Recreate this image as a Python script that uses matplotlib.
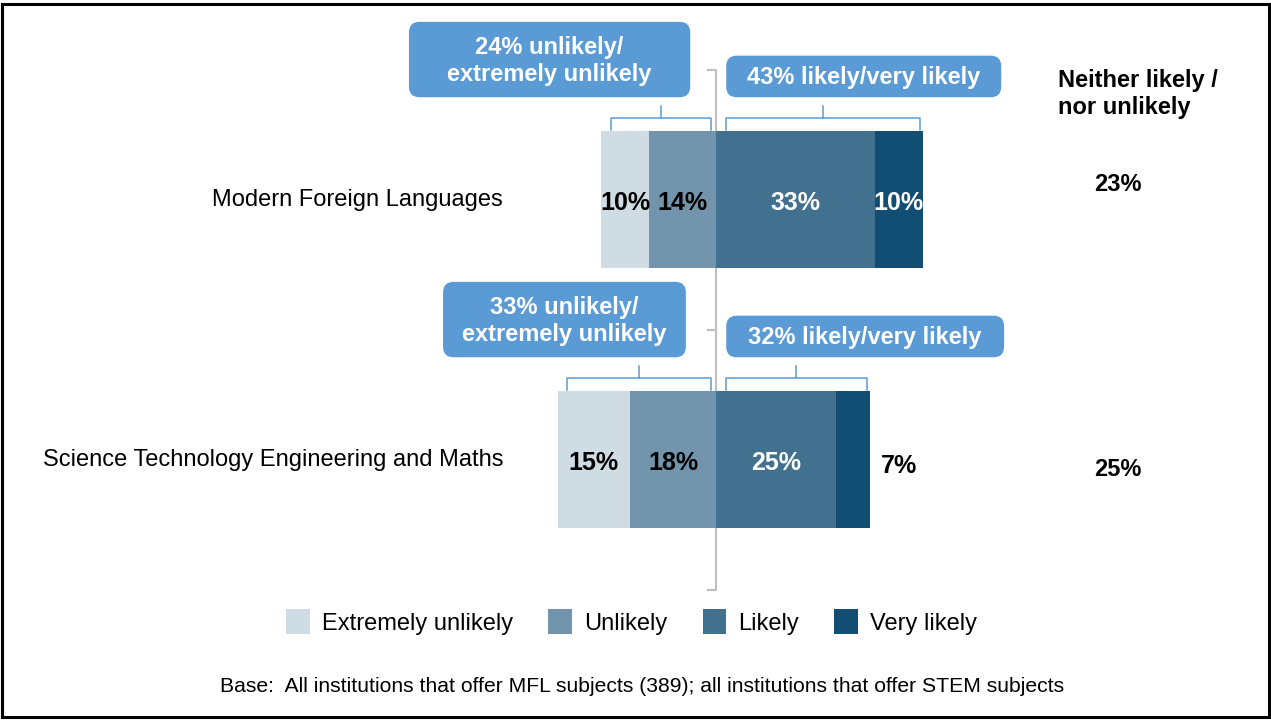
import matplotlib
matplotlib.use('Agg')
import matplotlib.pyplot as plt
from matplotlib.patches import FancyBboxPatch, Rectangle, Patch

plt.rcParams['font.family'] = ['Liberation Sans', 'DejaVu Sans']

# ---------------------------------------------------------------
# Data (% of institutions)
# ---------------------------------------------------------------
categories = ["Modern Foreign Languages",
              "Science Technology Engineering and Maths"]
extremely_unlikely = [10, 15]
unlikely           = [14, 18]
likely             = [33, 25]
very_likely        = [10, 7]
neither            = [23, 25]

legend_labels = ["Extremely unlikely", "Unlikely", "Likely", "Very likely"]
base_note = ("Base:  All institutions that offer MFL subjects (389); "
             "all institutions that offer STEM subjects")

# ---------------------------------------------------------------
# Styling / layout
# ---------------------------------------------------------------
COL_EXT     = '#CFDCE3'
COL_UNL     = '#7295AD'
COL_LIK     = '#41718F'
COL_VL      = '#124E74'
COL_CALLOUT = '#5B9BD5'
COL_AXIS    = '#BFBFBF'

BAR_H = 0.527
# callout boxes: (x0, x1) in % units, (y0, y1) offset from the category
left_box_x  = [(-64.0, -5.4), (-56.9, -6.3)]
right_box_x = [(2.1, 59.4), (2.1, 60.0)]
left_box_y  = (-0.685, -0.395)
right_box_y = (-0.555, -0.395)
neither_dy  = [-0.06, 0.035]

fig = plt.figure(figsize=(12.71, 7.2), dpi=100)
ax = fig.add_axes([0, 0, 1, 1])
ax.set_xlim(-149.2, 115.6)
ax.set_ylim(2.0, -0.769)
ax.axis('off')

y = list(range(len(categories)))
neg_unl = [-u for u in unlikely]
neg_ext = [-e for e in extremely_unlikely]

# diverging stacked bars
ax.barh(y, neg_unl, height=BAR_H, color=COL_UNL, zorder=2)
ax.barh(y, neg_ext, left=neg_unl, height=BAR_H, color=COL_EXT, zorder=2)
ax.barh(y, likely, height=BAR_H, color=COL_LIK, zorder=2)
ax.barh(y, very_likely, left=likely, height=BAR_H, color=COL_VL, zorder=2)

# centre axis line with small ticks
ax.plot([-1.7, 0, 0, -1.7], [-0.5, -0.5, 1.5, 1.5], color=COL_AXIS, lw=1.5, zorder=1)
ax.plot([-1.7, 0], [0.5, 0.5], color=COL_AXIS, lw=1.5, zorder=1)

lbl = dict(fontsize=18, fontweight='bold', va='center')
for i in y:
    e, u, l, v = extremely_unlikely[i], unlikely[i], likely[i], very_likely[i]
    ax.text(-u - e / 2, i + 0.01, f'{e}%', ha='center', color='black', zorder=3, **lbl)
    ax.text(-u / 2, i + 0.01, f'{u}%', ha='center', color='black', zorder=3, **lbl)
    ax.text(l / 2, i + 0.01, f'{l}%', ha='center', color='white', zorder=3, **lbl)
    if v >= 8:
        ax.text(l + v / 2, i + 0.01, f'{v}%', ha='center', color='white', zorder=3, **lbl)
    else:
        ax.text(l + v + 2.4, i + 0.025, f'{v}%', ha='left', color='black', zorder=3, **lbl)

    # category label
    ax.text(-44.4, i, categories[i], ha='right', va='center', fontsize=17)

    # neither likely nor unlikely
    ax.text(83.75, i + neither_dy[i], f'{neither[i]}%', ha='center', va='center',
            fontsize=17, fontweight='bold')

    # brackets over each side
    left_tot = e + u
    right_tot = l + v
    for x0, x1 in [(-left_tot + 2, -1), (2, right_tot - 0.6)]:
        yb = i - 0.315
        ax.plot([x0, x0, x1, x1], [i - 0.27, yb, yb, i - 0.27],
                color=COL_CALLOUT, lw=1.1, zorder=2)
        mid = (x0 + x1) / 2
        ax.plot([mid, mid], [yb, i - 0.36], color=COL_CALLOUT, lw=1.1, zorder=2)

    # callout boxes
    aspect = (1 / 260) / (1 / 4.8)
    boxes = [(left_box_x[i], left_box_y, f'{left_tot}% unlikely/\nextremely unlikely'),
             (right_box_x[i], right_box_y, f'{right_tot}% likely/very likely')]
    for (bx0, bx1), (by0, by1), txt in boxes:
        patch = FancyBboxPatch((bx0, i + by0), bx1 - bx0, by1 - by0,
                               boxstyle='round,pad=0,rounding_size=2.2',
                               mutation_aspect=aspect,
                               facecolor=COL_CALLOUT, edgecolor='none', zorder=3)
        ax.add_patch(patch)
        ax.text((bx0 + bx1) / 2, i + (by0 + by1) / 2 + 0.005, txt, ha='center',
                va='center', color='white', fontsize=17, fontweight='bold',
                linespacing=1.22, zorder=4)

# column header on the right
ax.text(71.25, -0.505, 'Neither likely /\nnor unlikely', ha='left', va='top',
        fontsize=17, fontweight='bold', linespacing=1.22)

# legend
handles = [Patch(facecolor=c, edgecolor='none') for c in (COL_EXT, COL_UNL, COL_LIK, COL_VL)]
fig.legend(handles, legend_labels, loc='center', bbox_to_anchor=(631.5 / 1271, 1 - 622 / 720),
           ncol=4, frameon=False, fontsize=17, handlelength=1.0, handleheight=1.2,
           handletextpad=0.5, columnspacing=1.5)

fig.text(642.5 / 1271, 1 - 686 / 720, base_note, ha='center', va='center', fontsize=15.2)

# outer frame
fig.add_artist(Rectangle((2 / 1271, 3 / 720), 1267 / 1271, 713 / 720,
                         transform=fig.transFigure, fill=False, edgecolor='black', lw=2.2))

fig.savefig('out.png', dpi=100)
